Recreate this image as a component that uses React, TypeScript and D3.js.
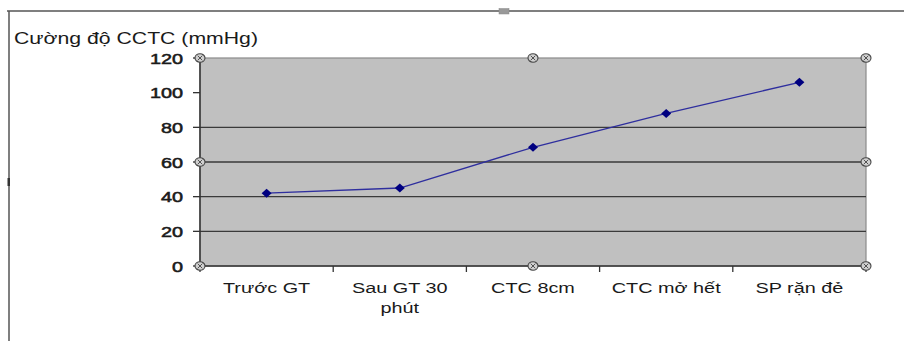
import React from "react";
import * as d3 from "d3";

const categories: string[][] = [
  ["Trước GT"],
  ["Sau GT 30", "phút"],
  ["CTC 8cm"],
  ["CTC mở hết"],
  ["SP rặn đẻ"],
];
const values: number[] = [42, 45, 68.5, 88, 106];
const yTicks: number[] = [0, 20, 40, 60, 80, 100, 120];
const gridValues: number[] = [20, 40, 60, 80];
const yTitle = "Cường độ CCTC (mmHg)";

const W = 904;
const H = 341;
const plot = { left: 200, right: 866, top: 58, bottom: 266 };
const SX = 1.28;
const FONT = "'Liberation Sans', Arial, sans-serif";

function SText({ x, y, anchor = "start", size = 15.5, weight = "normal", stroke = 0, children }: any) {
  return (
    <text
      transform={`translate(${x},${y}) scale(${SX},1)`}
      textAnchor={anchor}
      fontFamily={FONT}
      fontSize={size}
      fontWeight={weight}
      fill="#1a1a1a"
      stroke={stroke ? "#1a1a1a" : "none"}
      strokeWidth={stroke}
    >
      {children}
    </text>
  );
}

function Handle({ x, y }: { x: number; y: number }) {
  return (
    <g transform={`translate(${x},${y})`}>
      <ellipse rx={5} ry={4.2} fill="#d0d0d0" stroke="#444" strokeWidth={1.1} />
      <path d="M-2.3,-2.3L2.3,2.3M-2.3,2.3L2.3,-2.3" stroke="#444" strokeWidth={0.9} />
    </g>
  );
}

export default function App() {
  const x = d3
    .scaleBand<number>()
    .domain(d3.range(categories.length))
    .range([plot.left, plot.right])
    .paddingInner(0)
    .paddingOuter(0);
  const y = d3.scaleLinear().domain([0, 120]).range([plot.bottom, plot.top]);
  const cx = (i: number) => (x(i) as number) + x.bandwidth() / 2;

  const line = d3
    .line<number>()
    .x((_, i) => cx(i))
    .y((d) => y(d));

  const boundaries = d3.range(categories.length + 1).map((i) => plot.left + i * x.bandwidth());
  const midX = (plot.left + plot.right) / 2;
  const midY = y(60);

  return (
    <svg width={W} height={H} style={{ position: "absolute", left: 0, top: 0, background: "#fff" }}>
      {/* outer frame */}
      <line x1={7} x2={W} y1={11} y2={11} stroke="#555" strokeWidth={1.5} />
      <line x1={9} x2={9} y1={11} y2={H} stroke="#555" strokeWidth={1.5} />
      <rect x={7.5} y={178} width={2.5} height={8} fill="#333" />
      <rect x={499} y={8.5} width={10} height={5.5} fill="#999" stroke="#888" strokeWidth={0.5} />

      {/* y title */}
      <SText x={14} y={44} size={16.6}>{yTitle}</SText>

      {/* plot area */}
      <rect
        x={plot.left}
        y={plot.top}
        width={plot.right - plot.left}
        height={plot.bottom - plot.top}
        fill="#c0c0c0"
        stroke="#8a8a8a"
        strokeWidth={1.2}
      />
      {gridValues.map((v) => (
        <line key={v} x1={plot.left} x2={plot.right} y1={y(v)} y2={y(v)} stroke="#3a3a3a" strokeWidth={1.4} />
      ))}

      {/* axes */}
      <line x1={plot.left} x2={plot.left} y1={plot.top} y2={plot.bottom} stroke="#333" strokeWidth={1.5} />
      <line x1={plot.left} x2={plot.right} y1={plot.bottom} y2={plot.bottom} stroke="#333" strokeWidth={1.5} />

      {yTicks.map((v) => (
        <g key={v}>
          <line x1={plot.left - 7} x2={plot.left} y1={y(v)} y2={y(v)} stroke="#333" strokeWidth={1.3} />
          <SText x={183} y={y(v) + 5.5} anchor="end" size={15.5} stroke={0.55}>
            {v}
          </SText>
        </g>
      ))}

      {boundaries.map((bx, i) => (
        <line key={i} x1={bx} x2={bx} y1={plot.bottom} y2={plot.bottom + 6} stroke="#333" strokeWidth={1.3} />
      ))}

      {categories.map((lines, i) =>
        lines.map((t, j) => (
          <SText key={`${i}-${j}`} x={cx(i)} y={292.5 + j * 20} anchor="middle" size={15.5}>
            {t}
          </SText>
        ))
      )}

      {/* series */}
      <path d={line(values) || ""} fill="none" stroke="#2e2e9e" strokeWidth={1.3} />
      {values.map((v, i) => (
        <path
          key={i}
          transform={`translate(${cx(i)},${y(v)})`}
          d="M0,-4.5L5,0L0,4.5L-5,0Z"
          fill="#000080"
        />
      ))}

      {/* selection handles */}
      {[
        [plot.left, plot.top],
        [midX, plot.top],
        [plot.right, plot.top],
        [plot.left, midY],
        [plot.right, midY],
        [plot.left, plot.bottom],
        [midX, plot.bottom],
        [plot.right, plot.bottom],
      ].map(([hx, hy], i) => (
        <Handle key={i} x={hx} y={hy} />
      ))}
    </svg>
  );
}
